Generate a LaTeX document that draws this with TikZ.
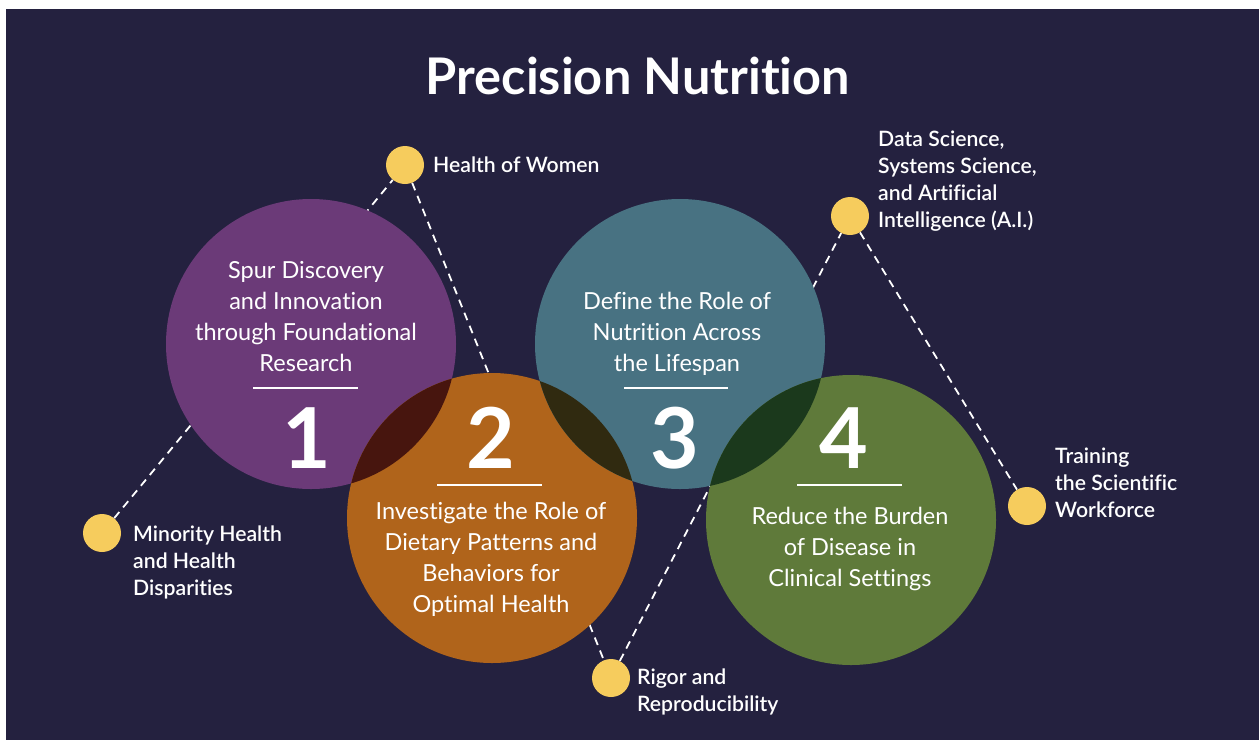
\documentclass[tikz,border=0pt]{standalone}
\usepackage{fontspec}
\setmainfont{Lato}[Ligatures=NoCommon]
\newfontfamily\labelfont{Lato Semibold}[Ligatures=NoCommon]
\usetikzlibrary{backgrounds}
\pgfdeclarelayer{panel}
\pgfsetlayers{panel,background,main}

\definecolor{navy}{HTML}{24213F}
\definecolor{purpleC}{HTML}{6B3A78}
\definecolor{orangeC}{HTML}{B0641B}
\definecolor{tealC}{HTML}{487282}
\definecolor{greenC}{HTML}{5F7A3A}
\definecolor{ovA}{HTML}{47150E}
\definecolor{ovB}{HTML}{302A10}
\definecolor{ovC}{HTML}{1B391C}
\definecolor{dotC}{HTML}{F6CC5D}

\tikzset{
  disc/.style={circle, minimum size=290pt, inner sep=0pt, draw=none},
  dot/.style={circle, fill=dotC, minimum size=38pt, inner sep=0pt},
  dashline/.style={draw=white, line width=1.8pt, dash pattern=on 8pt off 6pt},
  circtext/.style={text=white, align=center, inner sep=0pt, anchor=north,
    font=\fontsize{23.5}{31}\selectfont},
  bignum/.style={text=white, inner sep=0pt, anchor=base,
    font=\fontsize{84}{84}\selectfont\bfseries},
  rule/.style={draw=white, line width=2pt},
  label/.style={text=white, align=left, inner sep=0pt, anchor=north west,
    font=\labelfont\fontsize{21.2}{27}\selectfont},
}

\begin{document}
\begin{tikzpicture}[x=1pt, y=-1pt]
  % page and dark panel
  \begin{pgfonlayer}{panel}
    \fill[white] (0,0) rectangle (1259,740);
    \fill[navy] (6,9) rectangle (1259,740);
  \end{pgfonlayer}

  % title
  \node[text=white, inner sep=0pt, anchor=base, font=\fontsize{50.5}{52}\selectfont\bfseries]
    (title) at (638,94) {Precision Nutrition};

  % yellow markers
  \node[dot] (dMin)   at (102,533) {};
  \node[dot] (dWomen) at (405,165) {};
  \node[dot] (dRigor) at (611,678) {};
  \node[dot] (dData)  at (850,216) {};
  \node[dot] (dTrain) at (1027,506) {};

  % dashed zig-zag passing behind the circles
  \begin{scope}[on background layer]
    \draw[dashline] (dMin) -- (dWomen) -- (dRigor) -- (dData) -- (dTrain);
  \end{scope}

  % the four circles
  \node[disc, fill=purpleC] (c1) at (311,344) {};
  \node[disc, fill=orangeC] (c2) at (492,518) {};
  \node[disc, fill=tealC]   (c3) at (680,344) {};
  \node[disc, fill=greenC]  (c4) at (851,520) {};

  % overlaps
  \begin{scope}
    \clip (c1.center) circle[radius=145pt];
    \fill[ovA] (c2.center) circle[radius=145pt];
  \end{scope}
  \begin{scope}
    \clip (c2.center) circle[radius=145pt];
    \fill[ovB] (c3.center) circle[radius=145pt];
  \end{scope}
  \begin{scope}
    \clip (c3.center) circle[radius=145pt];
    \fill[ovC] (c4.center) circle[radius=145pt];
  \end{scope}

  % circle 1
  \node[circtext] (t1) at (306,261) {Spur Discovery\\and Innovation\\through Foundational\\Research};
  \coordinate (r1a) at (253,388); \coordinate (r1b) at (358,388);
  \draw[rule] (r1a) -- (r1b);
  \node[bignum] (n1) at (307,468) {1};

  % circle 2
  \node[bignum] (n2) at (491,468) {2};
  \coordinate (r2a) at (437,485); \coordinate (r2b) at (542,485);
  \draw[rule] (r2a) -- (r2b);
  \node[circtext] (t2) at (491,501.5) {Investigate the Role of\\Dietary Patterns and\\Behaviors for\\Optimal Health};

  % circle 3
  \node[circtext] (t3) at (677,291.5) {Define the Role of\\Nutrition Across\\the Lifespan};
  \coordinate (r3a) at (624,388); \coordinate (r3b) at (728,388);
  \draw[rule] (r3a) -- (r3b);
  \node[bignum] (n3) at (675,468) {3};

  % circle 4
  \node[bignum] (n4) at (844,468) {4};
  \coordinate (r4a) at (797,485); \coordinate (r4b) at (902,485);
  \draw[rule] (r4a) -- (r4b);
  \node[circtext] (t4) at (850,506.5) {Reduce the Burden\\of Disease in\\Clinical Settings};

  % marker labels
  \node[label] (lWomen) at (433,157) {Health of Women};
  \node[label] (lData)  at (878,131) {Data Science,\\Systems Science,\\and Artificial\\Intelligence (A.I.)};
  \node[label] (lTrain) at (1055,448) {Training\\the Scientific\\Workforce};
  \node[label] (lMin)   at (133,526) {Minority Health\\and Health\\Disparities};
  \node[label] (lRigor) at (637,669) {Rigor and\\Reproducibility};
\end{tikzpicture}
\end{document}
